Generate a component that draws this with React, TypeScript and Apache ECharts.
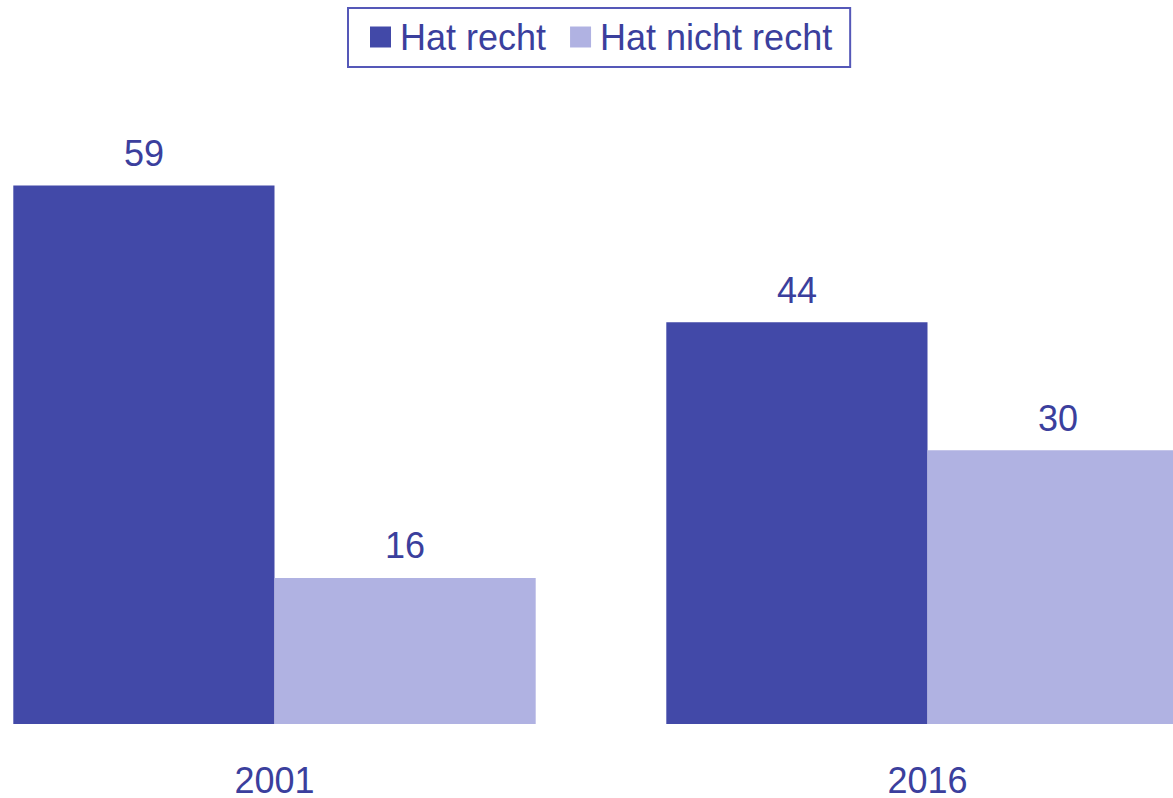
import React, { useEffect, useRef } from "react";
import * as echarts from "echarts";

const categories = ["2001", "2016"];
const seriesNames = ["Hat recht", "Hat nicht recht"];
const hatRecht = [59, 44];
const hatNichtRecht = [16, 30];

const DARK = "#4249A8";
const LIGHT = "#B0B2E2";
const TEXT = "#3B3F9D";
const FONT = "'Liberation Sans', Arial, sans-serif";

const SHIFT = 52;

export default function App() {
  const ref = useRef<HTMLDivElement>(null);
  useEffect(() => {
    if (!ref.current) return;
    const chart = echarts.init(ref.current, undefined, { renderer: "svg" });
    const label = {
      show: true,
      position: "top",
      distance: 14,
      color: TEXT,
      fontSize: 36,
      fontFamily: FONT,
    };
    chart.setOption({
      animation: false,
      backgroundColor: "#ffffff",
      legend: {
        left: 348 + SHIFT,
        top: 8,
        data: seriesNames,
        itemWidth: 21,
        itemHeight: 21,
        itemGap: 24,
        borderColor: "#5558B8",
        borderWidth: 2,
        padding: [11, 18, 12, 22],
        icon: "rect",
        textStyle: {
          color: TEXT,
          fontSize: 36,
          fontFamily: FONT,
          padding: [0, 0, 0, 4],
        },
      },
      grid: { left: 0, right: 0, top: 85, bottom: 73, containLabel: false },
      xAxis: {
        type: "category",
        data: categories,
        axisLine: { show: false },
        axisTick: { show: false },
        axisLabel: {
          color: TEXT,
          fontSize: 36,
          lineHeight: 30,
          fontFamily: FONT,
          margin: 41,
        },
      },
      yAxis: {
        type: "value",
        min: 0,
        max: 70,
        show: false,
        splitLine: { show: false },
      },
      series: [
        {
          name: seriesNames[0],
          type: "bar",
          data: hatRecht,
          itemStyle: { color: DARK },
          barGap: "0%",
          barCategoryGap: "20%",
          label,
        },
        {
          name: seriesNames[1],
          type: "bar",
          data: hatNichtRecht,
          itemStyle: { color: LIGHT },
          barGap: "0%",
          barCategoryGap: "20%",
          label,
        },
      ],
    });
    return () => chart.dispose();
  }, []);
  return (
    <div
      style={{
        position: "absolute",
        left: 0,
        top: 0,
        width: 1173,
        height: 798,
        overflow: "hidden",
        background: "#ffffff",
      }}
    >
      <div
        ref={ref}
        style={{ position: "absolute", left: -SHIFT, top: 0, width: 1306, height: 798 }}
      />
    </div>
  );
}
